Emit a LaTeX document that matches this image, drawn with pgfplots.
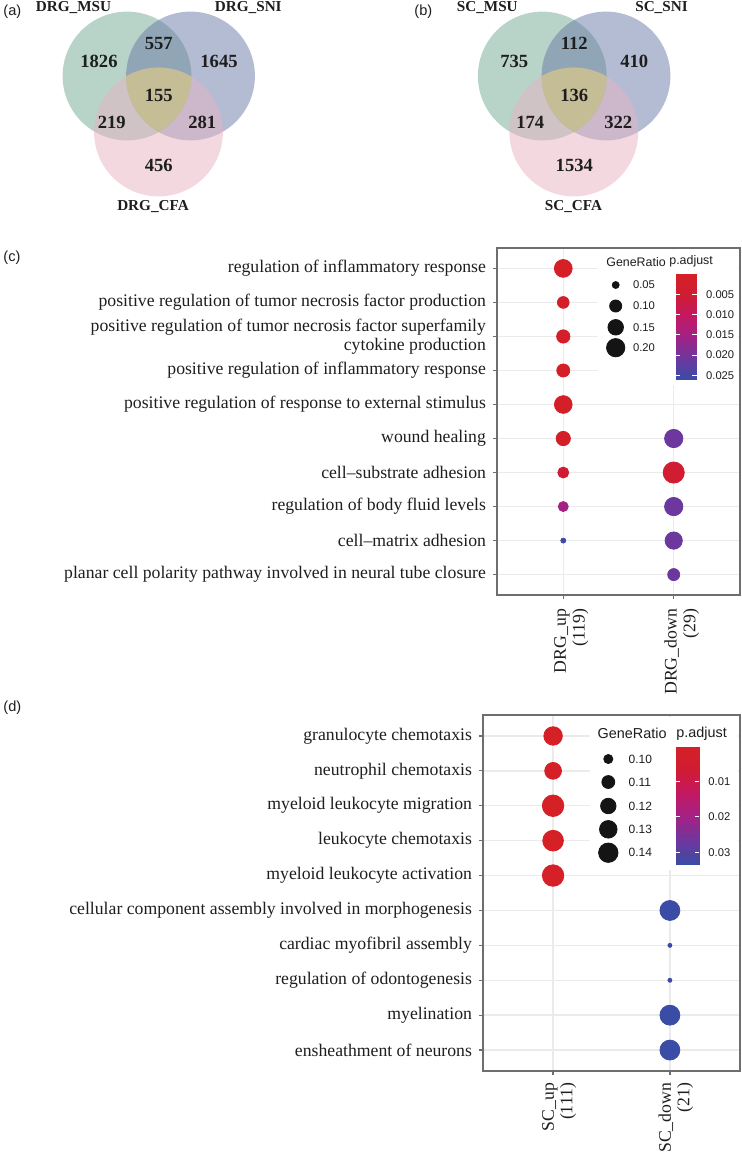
\documentclass[border=0pt]{standalone}
\usepackage{pgfplots}
\pgfplotsset{compat=1.18}
\usepackage{fontspec}
\setmainfont{Liberation Serif}
\newfontfamily\arial{Liberation Sans}
\definecolor{msu}{RGB}{113,169,147}
\definecolor{sni}{RGB}{105,121,167}
\definecolor{cfa}{RGB}{232,178,194}
\definecolor{khaki}{RGB}{197,189,150}
\definecolor{gridc}{RGB}{235,235,235}
\definecolor{framec}{RGB}{110,110,110}
\definecolor{txt}{RGB}{30,30,30}
\pgfplotsset{colormap={padj}{rgb255=(213,32,38) rgb255=(208,28,52) rgb255=(195,25,100) rgb255=(160,35,135) rgb255=(110,55,158) rgb255=(58,76,165)}}
\pgfplotsset{
 vennaxis/.style={at={(0pt,0pt)}, anchor=north west, scale only axis, width=371pt, height=110pt,
  xmin=0, xmax=742, ymin=0, ymax=220, y dir=reverse, hide axis, clip=false},
 dotaxis/.style={
  anchor=north west, scale only axis,
  xmin=-0.6, xmax=1.6, ymin=0.4, ymax=10.6, y dir=reverse,
  xtick={0,1}, ytick={1,...,10},
  grid=major, major grid style={gridc, line width=0.7pt},
  axis line style={framec, line width=0.6pt},
  tick align=outside, major tick length=2pt, tick style={framec, line width=0.6pt},
  xtick pos=lower, ytick pos=left,
  tick label style={font=\fontsize{8.85}{9.3}\selectfont, text=txt},
  yticklabel style={align=right},
  colormap name=padj,
 },
 legaxis/.style={
  anchor=north west, scale only axis, y dir=reverse,
  axis line style={draw=none}, ticks=none, axis background/.style={fill=white},
  clip=false,
 },
 cbar/.style={
  anchor=north west, scale only axis, y dir=reverse, axis on top,
  xmin=0, xmax=1, xtick=\empty, colormap name=padj,
  axis line style={draw=none}, scaled y ticks=false,
  tick align=inside, major tick length=2.2pt, tick style={white, line width=0.5pt},
  ytick pos=both, yticklabel pos=right,
  yticklabel style={font=\arial\fontsize{5.6}{6}\selectfont, text=txt, xshift=1.2pt,
   /pgf/number format/fixed, /pgf/number format/fixed zerofill, /pgf/number format/assume math mode=true},
 },
}
\begin{document}
\begin{tikzpicture}
\path[use as bounding box] (0,0) rectangle (371pt,-579pt);
% ---------------- Venn diagrams ----------------
\begin{axis}[vennaxis]
\addplot[only marks, mark=*, mark size=32.2pt, mark options={draw opacity=0, line width=0pt, fill=msu, fill opacity=0.5}] coordinates {(127,76) (542.3,76)};
\addplot[only marks, mark=*, mark size=32.2pt, mark options={draw opacity=0, line width=0pt, fill=sni, fill opacity=0.5}] coordinates {(190.5,76) (606,76)};
\addplot[only marks, mark=*, mark size=32.2pt, mark options={draw opacity=0, line width=0pt, fill=cfa, fill opacity=0.5}] coordinates {(158.5,132) (573.8,132)};
\end{axis}
\begin{axis}[vennaxis]
\pgfplotsextra{
 \begin{scope}
 \clip (axis cs:127,76) circle[radius=32.2pt];
 \clip (axis cs:190.5,76) circle[radius=32.2pt];
 \fill[khaki] (axis cs:158.5,132) circle[radius=32.2pt];
 \end{scope}
 \begin{scope}
 \clip (axis cs:542.3,76) circle[radius=32.2pt];
 \clip (axis cs:606,76) circle[radius=32.2pt];
 \fill[khaki] (axis cs:573.8,132) circle[radius=32.2pt];
 \end{scope}
}
\end{axis}
\begin{axis}[vennaxis]
\addplot[draw=none, mark=none, nodes near coords, point meta=explicit symbolic,
  nodes near coords style={anchor=center, text=txt, font=\bfseries\fontsize{9.3}{10}\selectfont}]
  table[x=x, y=y, meta=lab] {
x y lab
99 61 1826
158.7 43.3 557
219 61 1645
158.7 95.7 155
111.7 122.3 219
202.3 122.3 281
158.7 165 456
514.3 61 735
574.3 43.3 112
634.3 61 410
574.3 95.7 136
530.3 122.3 174
618.3 122.3 322
574.3 165 1534
};
\node[font=\bfseries\fontsize{7.6}{8}\selectfont, text=txt] at (axis cs:73.5,7.3) {DRG\_MSU};
\node[font=\bfseries\fontsize{7.6}{8}\selectfont, text=txt] at (axis cs:248.3,7.3) {DRG\_SNI};
\node[font=\bfseries\fontsize{7.6}{8}\selectfont, text=txt] at (axis cs:153,206.7) {DRG\_CFA};
\node[font=\bfseries\fontsize{7.6}{8}\selectfont, text=txt] at (axis cs:487.3,7.3) {SC\_MSU};
\node[font=\bfseries\fontsize{7.6}{8}\selectfont, text=txt] at (axis cs:661.5,7.3) {SC\_SNI};
\node[font=\bfseries\fontsize{7.6}{8}\selectfont, text=txt] at (axis cs:573.5,206.7) {SC\_CFA};
\end{axis}
\node[anchor=west, font=\arial\fontsize{7.3}{8}\selectfont, text=txt, inner sep=0pt] at (1.5pt,-6pt) {(a)};
\node[anchor=west, font=\arial\fontsize{7.3}{8}\selectfont, text=txt, inner sep=0pt] at (207pt,-6pt) {(b)};
\node[anchor=west, font=\arial\fontsize{7.3}{8}\selectfont, text=txt, inner sep=0pt] at (1.5pt,-129pt) {(c)};
\node[anchor=west, font=\arial\fontsize{7.3}{8}\selectfont, text=txt, inner sep=0pt] at (1.5pt,-354pt) {(d)};
% ---------------- Panel (c) ----------------
\begin{axis}[dotaxis, at={(248.5pt,-124pt)}, width=121.5pt, height=173.5pt,
  point meta min=0, point meta max=0.026,
  xticklabels={{DRG\_up\\(119)},{DRG\_down\\(29)}},
  xticklabel style={xshift=4pt, yshift=-1.5pt, rotate=90, anchor=east, align=right},
  yticklabels={regulation of inflammatory response,
   positive regulation of tumor necrosis factor production,
   {positive regulation of tumor necrosis factor superfamily\\cytokine production},
   positive regulation of inflammatory response,
   positive regulation of response to external stimulus,
   wound healing, cell\textendash substrate adhesion, regulation of body fluid levels,
   cell\textendash matrix adhesion, planar cell polarity pathway involved in neural tube closure}]
\addplot[scatter, only marks, mark=*, scatter src=explicit,
  scatter/use mapped color={draw=mapped color, fill=mapped color},
  visualization depends on={\thisrow{g} \as \gr},
  scatter/@pre marker code/.append style={/tikz/mark size={(1+42*sqrt(max(\gr-0.03,0)))/4}}]
  table[x=x, y=y, meta=p] {
x y g p
0 1 0.190 0.0005
0 2 0.095 0.0008
0 3 0.116 0.0008
0 4 0.112 0.0008
0 5 0.188 0.0008
0 6 0.130 0.0010
0 7 0.087 0.0050
0 8 0.076 0.0150
0 9 0.039 0.0255
1 6 0.200 0.0210
1 7 0.260 0.0040
1 8 0.200 0.0210
1 9 0.180 0.0210
1 10 0.099 0.0210
};
\end{axis}
\begin{axis}[legaxis, at={(299pt,-125pt)}, width=70pt, height=67.5pt,
  xmin=598, xmax=738, ymin=250, ymax=385]
\addplot[scatter, only marks, mark=*, scatter src=explicit,
  scatter/use mapped color={draw=black!92, fill=black!92},
  visualization depends on={\thisrow{g} \as \gr},
  scatter/@pre marker code/.append style={/tikz/mark size={(1+42*sqrt(max(\gr-0.03,0)))/4}}]
  table[x=x, y=y, meta=g] {
x y g
615.7 285 0.05
615.7 306 0.10
615.7 327.3 0.15
615.7 347.7 0.20
};
\node[anchor=west, inner sep=0pt, font=\arial\fontsize{6.2}{7}\selectfont, text=txt] at (axis cs:606,261.7) {GeneRatio};
\node[anchor=west, inner sep=0pt, font=\arial\fontsize{6.2}{7}\selectfont, text=txt] at (axis cs:669,261.7) {p.adjust};
\node[anchor=west, inner sep=0pt, font=\arial\fontsize{5.6}{6}\selectfont, text=txt] at (axis cs:632.7,285) {0.05};
\node[anchor=west, inner sep=0pt, font=\arial\fontsize{5.6}{6}\selectfont, text=txt] at (axis cs:632.7,306) {0.10};
\node[anchor=west, inner sep=0pt, font=\arial\fontsize{5.6}{6}\selectfont, text=txt] at (axis cs:632.7,327.3) {0.15};
\node[anchor=west, inner sep=0pt, font=\arial\fontsize{5.6}{6}\selectfont, text=txt] at (axis cs:632.7,347.7) {0.20};
\end{axis}
\begin{axis}[cbar, at={(338pt,-137pt)}, width=10.35pt, height=52.65pt,
  ymin=0, ymax=0.026, point meta min=0, point meta max=0.026,
  ytick={0.005,0.01,0.015,0.02,0.025},
  yticklabel style={/pgf/number format/precision=3}]
\addplot[surf, shader=interp, mesh/cols=2, point meta=y] table {
x y
0 0
1 0
0 0.002
1 0.002
0 0.004
1 0.004
0 0.006
1 0.006
0 0.008
1 0.008
0 0.010
1 0.010
0 0.012
1 0.012
0 0.014
1 0.014
0 0.016
1 0.016
0 0.018
1 0.018
0 0.020
1 0.020
0 0.022
1 0.022
0 0.024
1 0.024
0 0.026
1 0.026
};
\end{axis}
% ---------------- Panel (d) ----------------
\begin{axis}[dotaxis, at={(241.5pt,-357.5pt)}, width=128.5pt, height=178pt,
  point meta min=0.0003, point meta max=0.0333,
  xticklabels={{SC\_up\\(111)},{SC\_down\\(21)}},
  xticklabel style={xshift=3pt, yshift=-0.4pt, rotate=90, anchor=east, align=right},
  yticklabels={granulocyte chemotaxis, neutrophil chemotaxis, myeloid leukocyte migration,
   leukocyte chemotaxis, myeloid leukocyte activation,
   cellular component assembly involved in morphogenesis, cardiac myofibril assembly,
   regulation of odontogenesis, myelination, ensheathment of neurons}]
\addplot[scatter, only marks, mark=*, scatter src=explicit,
  scatter/use mapped color={draw=mapped color, fill=mapped color},
  visualization depends on={\thisrow{g} \as \gr},
  scatter/@pre marker code/.append style={/tikz/mark size={(4+17.5*sqrt(max(\gr-0.095,0)/0.058))/4}}]
  table[x=x, y=y, meta=p] {
x y g p
0 1 0.135 0.0005
0 2 0.126 0.0008
0 3 0.153 0.0005
0 4 0.148 0.0005
0 5 0.153 0.0008
1 6 0.143 0.0333
1 7 0.095 0.0333
1 8 0.095 0.0333
1 9 0.143 0.0333
1 10 0.143 0.0333
};
\end{axis}
\begin{axis}[legaxis, at={(295pt,-358.5pt)}, width=74pt, height=76.5pt,
  xmin=590, xmax=738, ymin=717, ymax=870]
\addplot[scatter, only marks, mark=*, scatter src=explicit,
  scatter/use mapped color={draw=black!92, fill=black!92},
  visualization depends on={\thisrow{g} \as \gr},
  scatter/@pre marker code/.append style={/tikz/mark size={(4+17.5*sqrt(max(\gr-0.095,0)/0.058))/4}}]
  table[x=x, y=y, meta=g] {
x y g
608.3 759 0.10
608.3 782 0.11
608.3 806 0.12
608.3 829.3 0.13
608.3 852.7 0.14
};
\node[anchor=west, inner sep=0pt, font=\arial\fontsize{7.2}{8}\selectfont, text=txt] at (axis cs:597.3,733.3) {GeneRatio};
\node[anchor=west, inner sep=0pt, font=\arial\fontsize{7.2}{8}\selectfont, text=txt] at (axis cs:676,733.3) {p.adjust};
\node[anchor=west, inner sep=0pt, font=\arial\fontsize{6}{7}\selectfont, text=txt] at (axis cs:628.3,759) {0.10};
\node[anchor=west, inner sep=0pt, font=\arial\fontsize{6}{7}\selectfont, text=txt] at (axis cs:628.3,782) {0.11};
\node[anchor=west, inner sep=0pt, font=\arial\fontsize{6}{7}\selectfont, text=txt] at (axis cs:628.3,806) {0.12};
\node[anchor=west, inner sep=0pt, font=\arial\fontsize{6}{7}\selectfont, text=txt] at (axis cs:628.3,829.3) {0.13};
\node[anchor=west, inner sep=0pt, font=\arial\fontsize{6}{7}\selectfont, text=txt] at (axis cs:628.3,852.7) {0.14};
\end{axis}
\begin{axis}[cbar, at={(337.85pt,-373.65pt)}, width=11.65pt, height=58.35pt,
  ymin=0.0003, ymax=0.0333, point meta min=0.0003, point meta max=0.0333,
  ytick={0.01,0.02,0.03},
  yticklabel style={/pgf/number format/precision=2}]
\addplot[surf, shader=interp, mesh/cols=2, point meta=y] table {
x y
0 0.0003
1 0.0003
0 0.0033
1 0.0033
0 0.0063
1 0.0063
0 0.0093
1 0.0093
0 0.0123
1 0.0123
0 0.0153
1 0.0153
0 0.0183
1 0.0183
0 0.0213
1 0.0213
0 0.0243
1 0.0243
0 0.0273
1 0.0273
0 0.0303
1 0.0303
0 0.0333
1 0.0333
};
\end{axis}
\end{tikzpicture}
\end{document}
